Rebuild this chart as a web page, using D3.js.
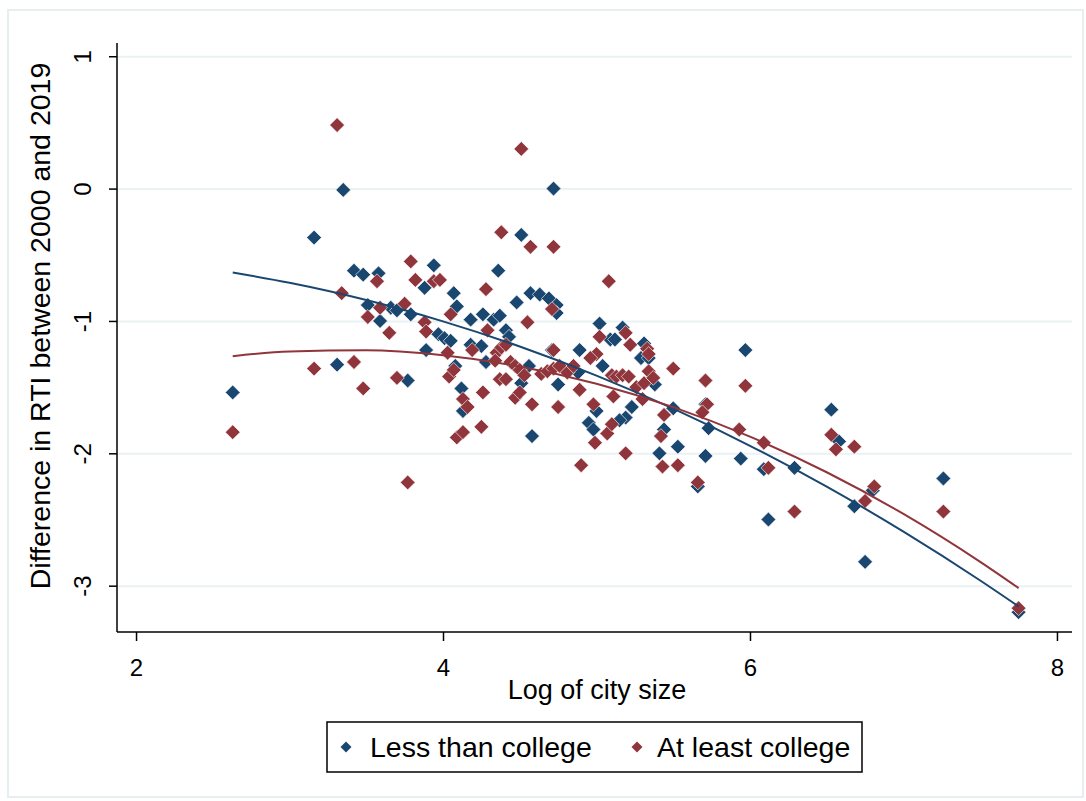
<!DOCTYPE html>
<html>
<head>
<meta charset="utf-8">
<script src="https://cdn.jsdelivr.net/npm/d3@7"></script>
<style>
  body { margin: 0; background: #fff; }
  svg text { font-family: "Liberation Sans", Arial, sans-serif; fill: #000; }
</style>
</head>
<body>
<div id="chart"></div>
<script>
// log city size and RTI change, less than college
var lnSizeLess = [2.63,3.16,3.35,3.31,3.42,3.48,3.58,3.94,3.88,3.51,3.59,3.66,3.70,3.79,3.97,4.01,4.05,3.89,3.77,4.07,
    4.09,4.18,4.26,4.33,4.18,4.25,4.36,4.08,4.12,4.13,4.28,4.51,4.72,4.48,4.57,4.63,4.69,4.74,4.74,4.37,
    4.41,4.43,4.56,4.51,4.71,4.75,4.89,4.88,5.02,5.09,5.12,5.04,5.17,5.31,5.29,5.34,5.23,5.19,5.15,4.95,
    4.98,4.58,5.00,5.41,5.38,5.50,5.44,5.53,5.71,5.73,5.71,5.97,5.94,6.09,6.29,5.66,6.12,6.53,6.58,6.68,
    6.80,6.75,7.26,7.75];
var rtiLess = [-1.54,-0.37,-0.01,-1.33,-0.62,-0.65,-0.64,-0.58,-0.75,-0.88,-1.00,-0.90,-0.92,-0.95,-1.10,-1.13,-1.15,-1.22,-1.45,-0.79,
    -0.89,-0.99,-0.95,-0.99,-1.18,-1.19,-0.62,-1.34,-1.51,-1.68,-1.31,-0.35,0.00,-0.86,-0.79,-0.80,-0.83,-0.88,-0.94,-0.96,
    -1.07,-1.12,-1.34,-1.47,-1.22,-1.48,-1.22,-1.39,-1.02,-1.14,-1.14,-1.34,-1.05,-1.17,-1.28,-1.28,-1.65,-1.73,-1.75,-1.77,
    -1.82,-1.87,-1.68,-2.00,-1.48,-1.66,-1.82,-1.95,-1.63,-1.81,-2.02,-1.22,-2.04,-2.12,-2.11,-2.25,-2.50,-1.67,-1.91,-2.40,
    -2.28,-2.82,-2.19,-3.20];

// at least college
var lnSizeMore = [2.63,3.16,3.31,3.34,3.42,3.48,3.57,3.59,3.51,3.65,3.75,3.79,3.82,3.94,3.98,3.88,3.89,3.70,3.77,4.05,
    4.03,4.04,4.07,4.09,4.13,4.25,4.26,4.13,4.16,4.19,4.28,4.29,4.38,4.51,4.57,4.72,4.55,4.71,5.08,4.35,
    4.38,4.41,4.34,4.44,4.47,4.50,4.53,4.37,4.41,4.47,4.50,4.58,4.75,4.64,4.68,4.72,4.76,4.81,4.85,4.89,
    4.72,4.90,4.98,4.99,5.07,5.10,5.19,5.02,5.00,4.96,5.10,5.13,5.17,5.21,5.26,5.31,5.34,5.37,5.30,5.11,
    5.19,5.22,5.33,5.34,5.43,5.53,5.50,5.71,5.97,5.72,5.69,5.44,5.42,5.93,6.09,6.12,5.66,6.29,6.53,6.56,
    6.68,6.81,6.75,7.26,7.75];
var rtiMore = [-1.84,-1.36,0.48,-0.79,-1.31,-1.51,-0.70,-0.90,-0.97,-1.09,-0.87,-0.55,-0.69,-0.70,-0.69,-1.01,-1.08,-1.43,-2.22,-0.95,
    -1.24,-1.42,-1.37,-1.88,-1.84,-1.80,-1.54,-1.59,-1.65,-1.22,-0.76,-1.07,-0.33,0.30,-0.44,-0.44,-1.01,-0.91,-0.70,-1.24,
    -1.20,-1.18,-1.30,-1.31,-1.34,-1.37,-1.41,-1.44,-1.44,-1.58,-1.54,-1.63,-1.65,-1.40,-1.38,-1.36,-1.34,-1.39,-1.34,-1.52,
    -1.22,-2.09,-1.63,-1.92,-1.85,-1.78,-2.00,-1.12,-1.25,-1.28,-1.41,-1.42,-1.41,-1.42,-1.50,-1.47,-1.38,-1.43,-1.59,-1.57,
    -1.09,-1.18,-1.21,-1.25,-2.10,-2.09,-1.36,-1.45,-1.49,-1.63,-1.69,-1.71,-1.87,-1.82,-1.92,-2.11,-2.22,-2.44,-1.86,-1.97,
    -1.95,-2.25,-2.36,-2.44,-3.17];

// quadratic fit lines
var fitX    = [2.63, 3.0, 3.5, 4.0, 4.5, 5.0, 5.5, 6.0, 6.5, 7.0, 7.5, 7.75];
var fitLess = [-0.634,-0.712,-0.842,-1.003,-1.193,-1.413,-1.663,-1.943,-2.252,-2.592,-2.961,-3.157];
var fitMore = [-1.266,-1.230,-1.222,-1.260,-1.344,-1.474,-1.651,-1.874,-2.143,-2.458,-2.820,-3.018];

var xTicks = [2, 4, 6, 8];
var yTicks = [-3, -2, -1, 0, 1];
var seriesNames = ["Less than college", "At least college"];

var W = 1086, H = 801;
var navy = "#1a476f", maroon = "#90353b";
var plotL = 117, plotR = 1072, plotT = 43, plotB = 632;

var svg = d3.select("#chart").append("svg")
    .attr("width", W)
    .attr("height", H);

svg.append("rect")
    .attr("x", 8).attr("y", 10)
    .attr("width", 1075).attr("height", 787)
    .attr("fill", "#fff")
    .attr("stroke", "#e6eef0")
    .attr("stroke-width", 2);

var x = d3.scaleLinear().domain([1.876, 8.098]).range([plotL, plotR]);
var y = d3.scaleLinear().domain([-3.35, 1.1]).range([plotB, plotT]);

// grid
svg.append("g")
    .attr("transform", "translate(" + plotL + ",0)")
    .call(d3.axisLeft(y).tickValues(yTicks).tickSize(-(plotR - plotL)).tickFormat(""))
    .call(function(g){
        g.select(".domain").remove();
        g.selectAll("line").attr("stroke", "#eaf2f3").attr("stroke-width", 2);
    });

// y axis
var yAxis = svg.append("g")
    .attr("transform", "translate(" + plotL + ",0)")
    .call(d3.axisLeft(y).tickValues(yTicks).tickSize(8).tickFormat(function(d){ return String(d); }));
yAxis.select(".domain").attr("d", "M0," + plotT + "V" + plotB).attr("stroke", "#000").attr("stroke-width", 1.5);
yAxis.selectAll(".tick line").attr("stroke", "#000").attr("stroke-width", 1.5);
yAxis.selectAll(".tick text")
    .attr("transform", "rotate(-90)")
    .attr("x", 0).attr("y", -26).attr("dy", 0)
    .attr("text-anchor", "middle")
    .style("font-size", "24px");

// x axis
var xAxis = svg.append("g")
    .attr("transform", "translate(0," + plotB + ")")
    .call(d3.axisBottom(x).tickValues(xTicks).tickSize(9).tickPadding(18).tickFormat(function(d){ return String(d); }));
xAxis.select(".domain").attr("d", "M" + plotL + ",0H" + plotR).attr("stroke", "#000").attr("stroke-width", 1.5);
xAxis.selectAll(".tick line").attr("stroke", "#000").attr("stroke-width", 1.5);
xAxis.selectAll(".tick text").style("font-size", "24px");

svg.append("text")
    .attr("x", 597).attr("y", 699)
    .attr("text-anchor", "middle")
    .style("font-size", "27px")
    .text("Log of city size");

svg.append("text")
    .attr("transform", "translate(50,326)rotate(-90)")
    .attr("text-anchor", "middle")
    .style("font-size", "28.5px")
    .text("Difference in RTI between 2000 and 2019");

var diamond = d3.symbol().type(d3.symbolSquare).size(110);

function scatter(xs, ys, col){
    svg.append("g").selectAll("path")
        .data(xs.map(function(v, i){ return [v, ys[i]]; }))
        .enter().append("path")
        .attr("d", diamond)
        .attr("transform", function(d){ return "translate(" + x(d[0]) + "," + y(d[1]) + ")rotate(45)"; })
        .attr("fill", col)
        .attr("stroke", "#fff")
        .attr("stroke-width", 0.6);
}
scatter(lnSizeLess, rtiLess, navy);
scatter(lnSizeMore, rtiMore, maroon);

var line = d3.line()
    .x(function(d){ return x(d[0]); })
    .y(function(d){ return y(d[1]); })
    .curve(d3.curveMonotoneX);

svg.append("path")
    .datum(fitX.map(function(v, i){ return [v, fitLess[i]]; }))
    .attr("d", line).attr("fill", "none").attr("stroke", navy).attr("stroke-width", 2);
svg.append("path")
    .datum(fitX.map(function(v, i){ return [v, fitMore[i]]; }))
    .attr("d", line).attr("fill", "none").attr("stroke", maroon).attr("stroke-width", 2);

// legend
var lg = svg.append("g");
lg.append("rect")
    .attr("x", 327).attr("y", 722).attr("width", 535).attr("height", 50)
    .attr("fill", "#fff").attr("stroke", "#000").attr("stroke-width", 1.5);
var legendItems = [[346, 370, navy], [637, 657, maroon]];
legendItems.forEach(function(it, i){
    lg.append("path")
        .attr("d", d3.symbol().type(d3.symbolSquare).size(60))
        .attr("transform", "translate(" + it[0] + ",747)rotate(45)")
        .attr("fill", it[2]);
    lg.append("text")
        .attr("x", it[1]).attr("y", 757)
        .style("font-size", "28.5px")
        .text(seriesNames[i]);
});
</script>
</body>
</html>
